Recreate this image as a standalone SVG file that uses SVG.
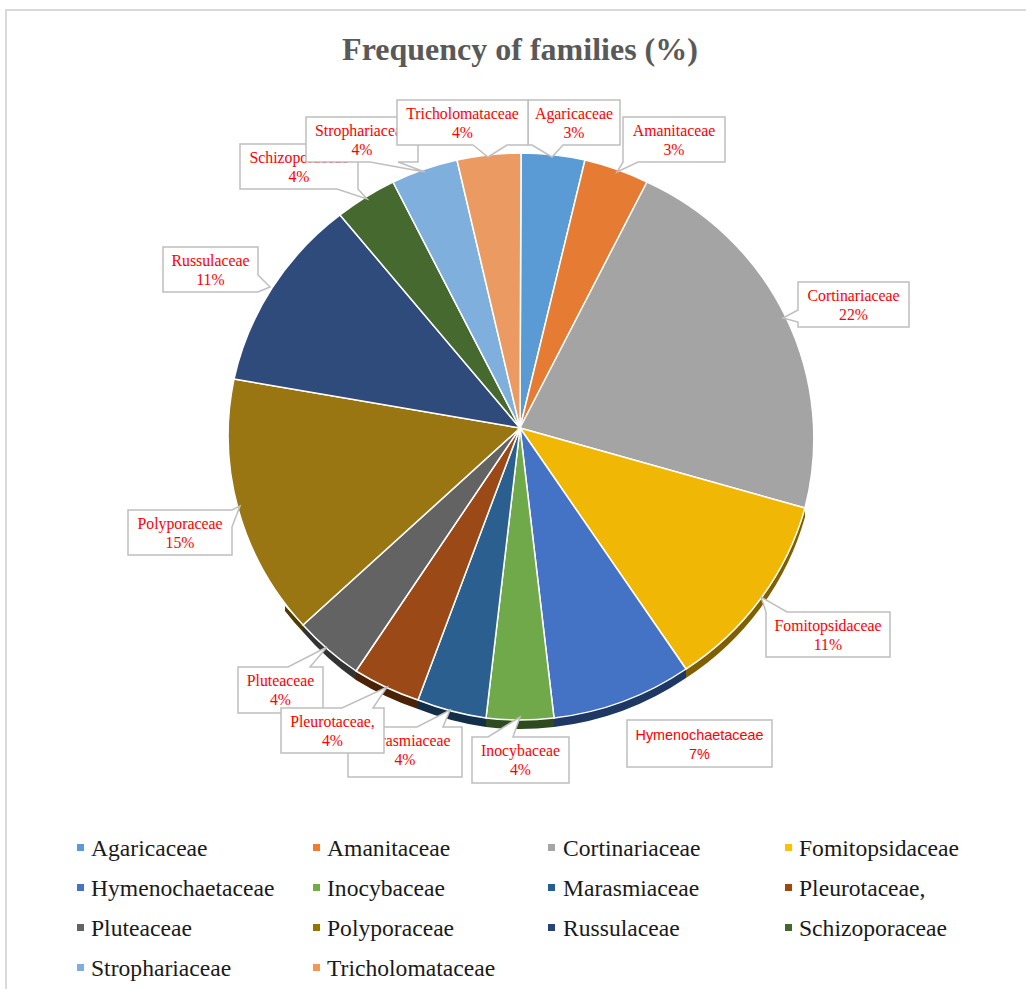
<svg xmlns="http://www.w3.org/2000/svg" width="1026" height="989" viewBox="0 0 1026 989">
<style>
.title{font-family:"Liberation Serif","Times New Roman",serif;font-weight:bold;font-size:32px;fill:#595959}
.slice{stroke:#ffffff;stroke-width:1.5;stroke-linejoin:round}
.side{stroke:none}
.call{fill:#ffffff;stroke:#bfbfbf;stroke-width:1.5}
.lbl{font-family:"Liberation Serif","Times New Roman",serif;font-size:15.8px;fill:#ff0000;text-anchor:middle}
.lbls{font-family:"Liberation Sans",Arial,sans-serif;font-size:14.4px;fill:#ff0000;text-anchor:middle}
.leg{font-family:"Liberation Serif","Times New Roman",serif;font-size:23.6px;fill:#1a1a1a}
</style>
<rect x="0" y="0" width="1026" height="989" fill="#ffffff"/>
<path d="M6,989 V10 H1026" fill="none" stroke="#d9d9d9" stroke-width="2"/>
<text class="title" x="520" y="60" text-anchor="middle">Frequency of families (%)</text>

<g id="pie-sides">
<path class="side" fill="#7f5f00" d="M805,508 A291,283 0 0 1 686,669 L686,678 A291,283 0 0 0 805,517 Z"/>
<path class="side" fill="#1f3763" d="M686,669 A291,283 0 0 1 554,718 L554,727 A291,283 0 0 0 686,678 Z"/>
<path class="side" fill="#2e4a1e" d="M554,718 A291,283 0 0 1 486,718 L486,727 A291,283 0 0 0 554,727 Z"/>
<path class="side" fill="#132e48" d="M486,718 A291,283 0 0 1 418,700 L418,709 A291,283 0 0 0 486,727 Z"/>
<path class="side" fill="#4a2206" d="M418,700 A291,283 0 0 1 356,671 L356,680 A291,283 0 0 0 418,709 Z"/>
<path class="side" fill="#333333" d="M356,671 A291,283 0 0 1 303,625 L303,632 A291,283 0 0 0 356,680 Z"/>
<path class="side" fill="#4f3c00" d="M303,625 A291,283 0 0 1 285,606 L285,611 A291,283 0 0 0 303,632 Z"/>
</g>

<g id="slice-agaricaceae"><path class="slice" fill="#5b9bd5" d="M520,428 L521,153 A291,283 0 0 1 585,160 Z"/></g>
<g id="slice-amanitaceae"><path class="slice" fill="#e67b33" d="M520,428 L585,160 A291,283 0 0 1 647,182 Z"/></g>
<g id="slice-cortinariaceae"><path class="slice" fill="#a4a4a4" d="M520,428 L647,182 A289,283 0 0 1 805,508 Z"/></g>
<g id="slice-fomitopsidaceae"><path class="slice" fill="#f1b705" d="M520,428 L805,508 A291,283 0 0 1 686,669 Z"/></g>
<g id="slice-hymenochaetaceae"><path class="slice" fill="#4472c4" d="M520,428 L686,669 A291,283 0 0 1 554,718 Z"/></g>
<g id="slice-inocybaceae"><path class="slice" fill="#6fa94a" d="M520,428 L554,718 A291,283 0 0 1 486,718 Z"/></g>
<g id="slice-marasmiaceae"><path class="slice" fill="#2a5f8f" d="M520,428 L486,718 A291,283 0 0 1 418,700 Z"/></g>
<g id="slice-pleurotaceae"><path class="slice" fill="#9b4a17" d="M520,428 L418,700 A291,283 0 0 1 356,671 Z"/></g>
<g id="slice-pluteaceae"><path class="slice" fill="#636363" d="M520,428 L356,671 A291,283 0 0 1 303,625 Z"/></g>
<g id="slice-polyporaceae"><path class="slice" fill="#9a7612" d="M520,428 L303,625 A291,283 0 0 1 234,379 Z"/></g>
<g id="slice-russulaceae"><path class="slice" fill="#2f4b7c" d="M520,428 L234,379 A291,283 0 0 1 340,215 Z"/></g>
<g id="slice-schizoporaceae"><path class="slice" fill="#46692f" d="M520,428 L340,215 A291,283 0 0 1 393,182 Z"/></g>
<g id="slice-strophariaceae"><path class="slice" fill="#7fafdc" d="M520,428 L393,182 A291,283 0 0 1 457,160 Z"/></g>
<g id="slice-tricholomataceae"><path class="slice" fill="#eb9a62" d="M520,428 L457,160 A291,283 0 0 1 521,153 Z"/></g>

<g id="connectors"></g>

<g id="label-schizoporaceae">
<path class="call" d="M240,144 H358 V189 L367,199 L337,189 H240 Z"/>
<text class="lbl" x="299" y="163">Schizoporaceae</text><text class="lbl" x="299" y="182">4%</text>
</g>
<g id="label-strophariaceae">
<path class="call" d="M306,117 H418 V162 H398 L425,172 L370,162 H306 Z"/>
<text class="lbl" x="362" y="136">Strophariaceae</text><text class="lbl" x="362" y="155">4%</text>
</g>
<g id="label-agaricaceae">
<path class="call" d="M528,100 H620 V145 H563 L552,157 L532,145 H528 Z"/>
<text class="lbl" x="574" y="119">Agaricaceae</text><text class="lbl" x="574" y="138">3%</text>
</g>
<g id="label-tricholomataceae">
<path class="call" d="M397,100 H528 V145 H507 L488,157 L473,145 H397 Z"/>
<text class="lbl" x="462.5" y="119">Tricholomataceae</text><text class="lbl" x="462.5" y="138">4%</text>
</g>
<g id="label-amanitaceae">
<path class="call" d="M623,117 H725 V162 H638 L617,172 L623,162 Z"/>
<text class="lbl" x="674" y="136">Amanitaceae</text><text class="lbl" x="674" y="155">3%</text>
</g>
<g id="label-cortinariaceae">
<path class="call" d="M798,282 H909 V327 H798 V322 L783,318 L798,310 Z"/>
<text class="lbl" x="853.5" y="301">Cortinariaceae</text><text class="lbl" x="853.5" y="320">22%</text>
</g>
<g id="label-fomitopsidaceae">
<path class="call" d="M766,612 L761,597 L787,612 H890 V657 H766 Z"/>
<text class="lbl" x="828" y="631">Fomitopsidaceae</text><text class="lbl" x="828" y="650">11%</text>
</g>
<g id="label-hymenochaetaceae">
<rect class="call" x="627" y="720" width="145" height="47"/>
<text class="lbls" x="699.5" y="740">Hymenochaetaceae</text><text class="lbls" x="699.5" y="759">7%</text>
</g>
<g id="label-inocybaceae">
<path class="call" d="M472,737 H488 L520,717 L513,737 H569 V783 H472 Z"/>
<text class="lbl" x="520.5" y="756">Inocybaceae</text><text class="lbl" x="520.5" y="775">4%</text>
</g>
<g id="label-marasmiaceae">
<path class="call" d="M348,727 H417 L450,710 L443,727 H462 V777 H348 Z"/>
<text class="lbl" x="405" y="746">Marasmiaceae</text><text class="lbl" x="405" y="765">4%</text>
</g>
<g id="label-pluteaceae">
<path class="call" d="M238,667 H288 L327,647 L310,667 H323 V713 H238 Z"/>
<text class="lbl" x="280.5" y="686">Pluteaceae</text><text class="lbl" x="280.5" y="705">4%</text>
</g>
<g id="label-pleurotaceae">
<path class="call" d="M281,708 H342 L387,687 L373,708 H384 V753 H281 Z"/>
<text class="lbl" x="332.5" y="727">Pleurotaceae,</text><text class="lbl" x="332.5" y="746">4%</text>
</g>
<g id="label-polyporaceae">
<path class="call" d="M128,510 H232 L240,506 L232,527 V555 H128 Z"/>
<text class="lbl" x="180" y="529">Polyporaceae</text><text class="lbl" x="180" y="548">15%</text>
</g>
<g id="label-russulaceae">
<path class="call" d="M163,247 H258 V275 L270,287 L258,292 H163 Z"/>
<text class="lbl" x="210.5" y="266">Russulaceae</text><text class="lbl" x="210.5" y="285">11%</text>
</g>

<g id="legend">
<rect x="77" y="844" width="7" height="7" fill="#5b9bd5"/><text class="leg" x="91" y="856">Agaricaceae</text>
<rect x="313" y="844" width="7" height="7" fill="#ed7d31"/><text class="leg" x="327" y="856">Amanitaceae</text>
<rect x="548" y="844" width="7" height="7" fill="#a5a5a5"/><text class="leg" x="563" y="856">Cortinariaceae</text>
<rect x="785" y="844" width="7" height="7" fill="#ffc000"/><text class="leg" x="799" y="856">Fomitopsidaceae</text>
<rect x="77" y="884" width="7" height="7" fill="#4472c4"/><text class="leg" x="91" y="896">Hymenochaetaceae</text>
<rect x="313" y="884" width="7" height="7" fill="#70ad47"/><text class="leg" x="327" y="896">Inocybaceae</text>
<rect x="548" y="884" width="7" height="7" fill="#255e91"/><text class="leg" x="563" y="896">Marasmiaceae</text>
<rect x="785" y="884" width="7" height="7" fill="#9e480e"/><text class="leg" x="799" y="896">Pleurotaceae,</text>
<rect x="77" y="924" width="7" height="7" fill="#636363"/><text class="leg" x="91" y="936">Pluteaceae</text>
<rect x="313" y="924" width="7" height="7" fill="#997300"/><text class="leg" x="327" y="936">Polyporaceae</text>
<rect x="548" y="924" width="7" height="7" fill="#264478"/><text class="leg" x="563" y="936">Russulaceae</text>
<rect x="785" y="924" width="7" height="7" fill="#43682b"/><text class="leg" x="799" y="936">Schizoporaceae</text>
<rect x="77" y="964" width="7" height="7" fill="#7cafdd"/><text class="leg" x="91" y="976">Strophariaceae</text>
<rect x="313" y="964" width="7" height="7" fill="#f1975a"/><text class="leg" x="327" y="976">Tricholomataceae</text>
</g>
</svg>
